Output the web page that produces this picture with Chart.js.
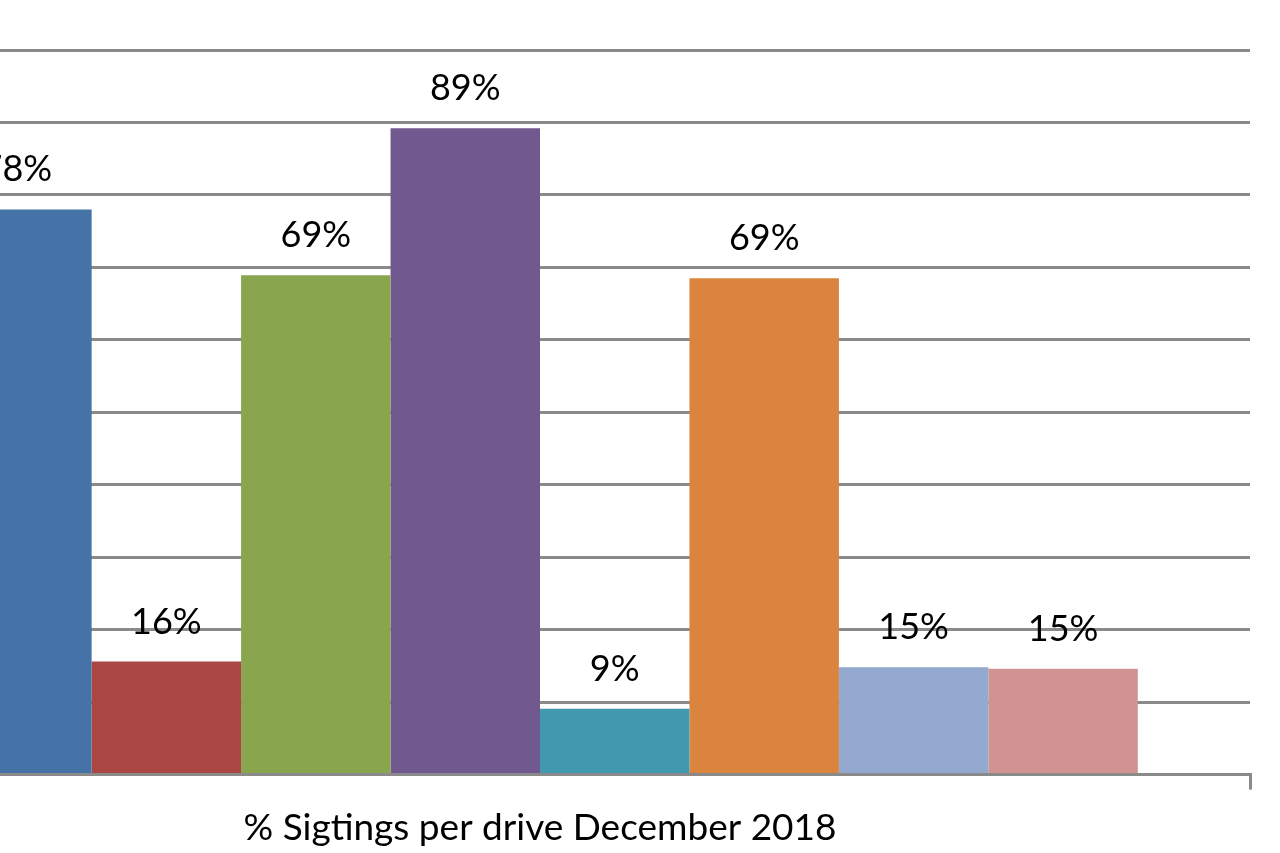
<!DOCTYPE html>
<html>
<head>
<meta charset="utf-8">
<script src="https://cdn.jsdelivr.net/npm/chart.js@4"></script>
<style>
  html, body { margin: 0; padding: 0; background: #fff; overflow: hidden; }
  #wrap { position: absolute; left: -170px; top: 0; width: 1450px; height: 853px; }
</style>
</head>
<body>
<div id="wrap"><canvas id="myChart"></canvas></div>
<script>
// one category, eight drives (legend is outside the visible crop)
var category = ["% Sigtings per drive December 2018"];
var seriesNames = ["Series 1", "Series 2", "Series 3", "Series 4", "Series 5", "Series 6", "Series 7", "Series 8"];
var seriesValues = [78.0, 15.6, 68.9, 89.2, 9.1, 68.5, 14.8, 14.6];
var barColors = ["#4572A7", "#AA4643", "#89A54E", "#71588F", "#4198AF", "#DB843D", "#93A9CF", "#D19392"];
var yTicks = [0, 10, 20, 30, 40, 50, 60, 70, 80, 90, 100];

var datasets = seriesNames.map(function (name, i) {
  return {
    label: name,
    data: [seriesValues[i]],
    backgroundColor: barColors[i],
    borderWidth: 0
  };
});

// value labels above each bar
var barLabels = {
  id: "barLabels",
  afterDatasetsDraw: function (chart) {
    var ctx = chart.ctx;
    ctx.save();
    ctx.font = "36px Lato";
    ctx.fillStyle = "#000";
    ctx.textAlign = "center";
    ctx.textBaseline = "alphabetic";
    chart.data.datasets.forEach(function (ds, i) {
      var bar = chart.getDatasetMeta(i).data[0];
      ctx.fillText(Math.round(ds.data[0]) + "%", bar.x, bar.y - 28);
    });
    ctx.restore();
  }
};

new Chart("myChart", {
  type: "bar",
  data: { labels: category, datasets: datasets },
  options: {
    responsive: true,
    maintainAspectRatio: false,
    animation: false,
    categoryPercentage: 0.842,
    barPercentage: 1,
    layout: { padding: { top: 50, right: 30, left: 0, bottom: 0 } },
    plugins: {
      legend: { display: false },
      tooltip: { enabled: false }
    },
    scales: {
      y: {
        min: 0,
        max: 100,
        afterBuildTicks: function (scale) {
          scale.ticks = yTicks.map(function (v) { return { value: v }; });
        },
        ticks: { display: false },
        border: { display: false },
        grid: { color: "#8a8a8a", lineWidth: 3, drawTicks: false }
      },
      x: {
        ticks: { display: false },
        border: { color: "#8a8a8a", width: 3 },
        grid: { drawOnChartArea: false, color: "#8a8a8a", lineWidth: 3, tickLength: 15 },
        title: {
          display: true,
          text: category[0],
          color: "#000",
          font: { family: "Lato", size: 37 },
          padding: { top: 16, bottom: 3 }
        }
      }
    }
  },
  plugins: [barLabels]
});
</script>
</body>
</html>
